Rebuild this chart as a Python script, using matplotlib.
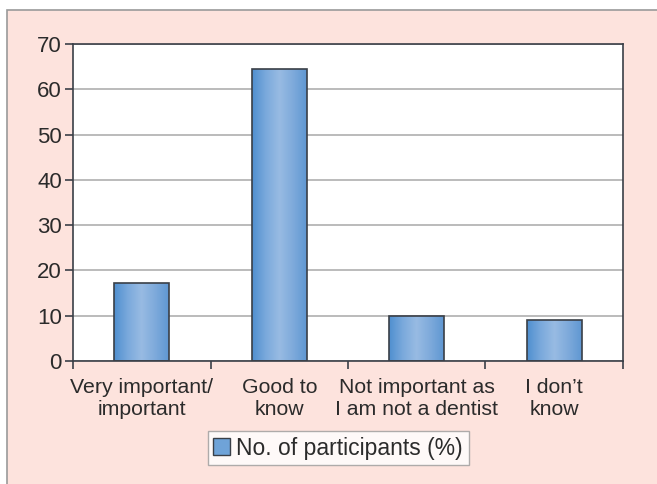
import matplotlib
matplotlib.use("Agg")
import matplotlib.pyplot as plt
import matplotlib.patches as mpatches
from matplotlib.colors import LinearSegmentedColormap
import numpy as np

# ── Data ──────────────────────────────────────────────────────────────────────
CATEGORIES = [
    "Very important/\nimportant",
    "Good to\nknow",
    "Not important as\nI am not a dentist",
    "I don\u2019t\nknow",
]
PARTICIPANTS_PCT = [17.2, 64.4, 10.0, 9.1]
SERIES_LABEL = "No. of participants (%)"
Y_TICKS = [0, 10, 20, 30, 40, 50, 60, 70]

# ── Style ─────────────────────────────────────────────────────────────────────
plt.rcParams["font.family"] = ["Liberation Sans", "DejaVu Sans"]
TXT = "#2b2b2b"
PINK = "#fde3dd"
EDGE = "#3a3f47"
FS = 15.3
GRAD = LinearSegmentedColormap.from_list(
    "bar", ["#4f8fcf", "#7aa9dc", "#98bbe3", "#7eaadb", "#5f97d2"])

fig = plt.figure(figsize=(6.57, 4.84), dpi=100, facecolor="white")

# pink frame with grey border (top/left visible, runs off right/bottom)
frame = mpatches.Rectangle((7 / 657, -0.05), 1.0, 1 - 10 / 484 + 0.05,
                           transform=fig.transFigure, facecolor=PINK,
                           edgecolor="#9a9a9a", linewidth=1.2, zorder=-10)
fig.patches.append(frame)

ax = fig.add_axes([73 / 657, 1 - 361 / 484, 550 / 657, 317 / 484])
ax.set_facecolor("white")

x = np.arange(len(CATEGORIES))
bars = ax.bar(x, PARTICIPANTS_PCT, width=0.4, facecolor="none",
              edgecolor=EDGE, linewidth=1.2, zorder=3)

# horizontal gradient fill inside each bar
grad = np.linspace(0, 1, 256).reshape(1, -1)
for b in bars:
    bx, by = b.get_x(), b.get_y()
    im = ax.imshow(grad, cmap=GRAD, aspect="auto", zorder=2,
                   extent=[bx, bx + b.get_width(), by, by + b.get_height()])
    im.set_clip_path(b)

ax.set_xlim(-0.5, len(CATEGORIES) - 0.5)
ax.set_ylim(0, 70)
ax.set_yticks(Y_TICKS)
ax.set_yticklabels([str(t) for t in Y_TICKS], fontsize=16, color=TXT)

# category labels between boundary ticks
ax.set_xticks(x)
ax.set_xticklabels(CATEGORIES, fontsize=FS, color=TXT, linespacing=1.25)
ax.tick_params(axis="x", length=0, pad=12)
ax.set_xticks(np.arange(len(CATEGORIES) + 1) - 0.5, minor=True)
ax.tick_params(axis="x", which="minor", length=6, width=1.2, color=EDGE)
ax.tick_params(axis="y", length=6, width=1.2, color=EDGE, pad=2)

ax.yaxis.grid(True, color="#b5b5b5", linewidth=1.3, zorder=1)
ax.set_axisbelow(True)
for s in ax.spines.values():
    s.set_color(EDGE)
    s.set_linewidth(1.2)

handle = mpatches.Patch(facecolor="#6fa3d8", edgecolor=EDGE, linewidth=1.0)
leg = fig.legend([handle], [SERIES_LABEL], loc="center",
                 bbox_to_anchor=(338 / 657, 1 - 448 / 484), fontsize=16.5,
                 frameon=True, fancybox=False, handlelength=0.75,
                 handleheight=0.75, handletextpad=0.25, borderpad=0.25,
                 borderaxespad=0, labelcolor=TXT)
leg.get_frame().set_edgecolor("#9a9a9a")
leg.get_frame().set_linewidth(1.0)

fig.savefig("out.png", dpi=100, facecolor="white")
